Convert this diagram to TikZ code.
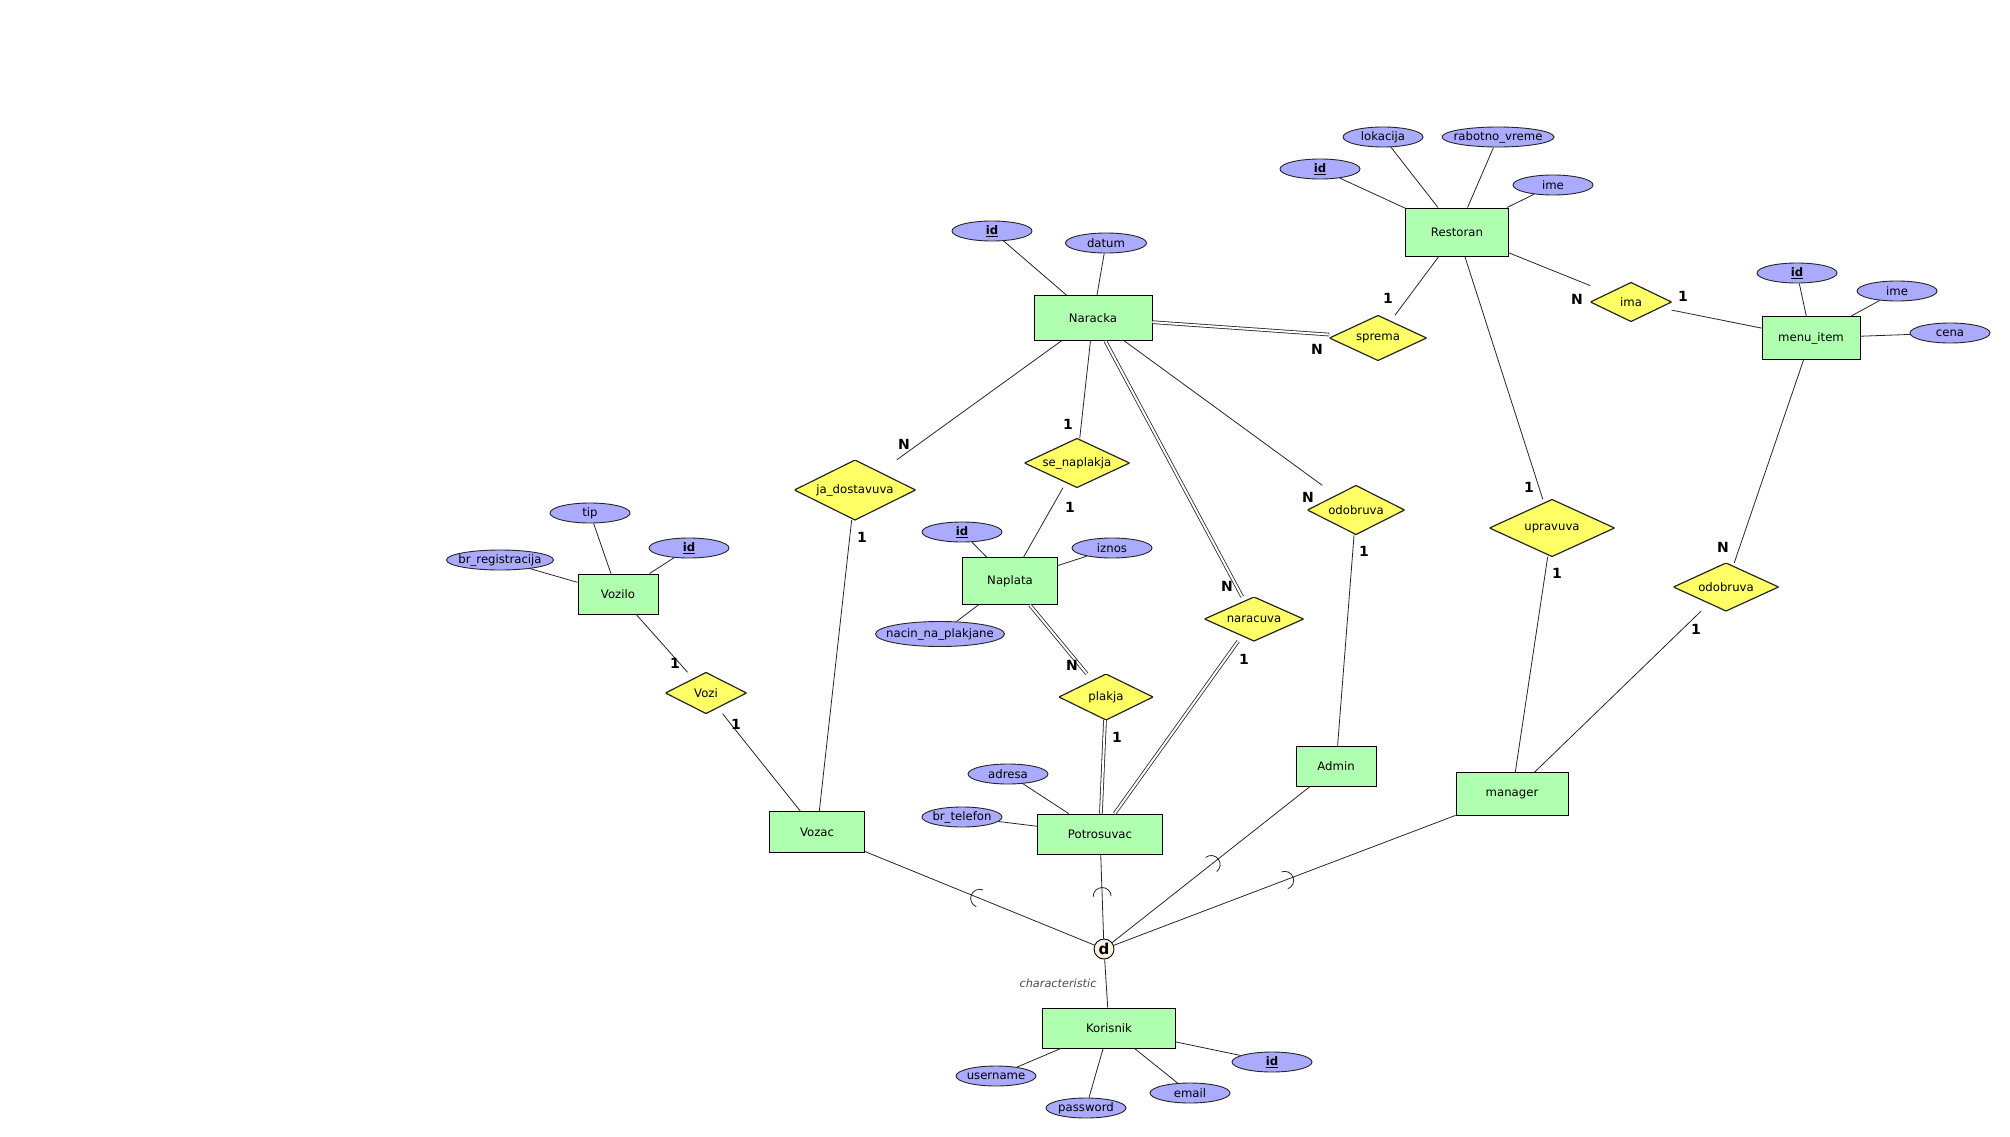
\documentclass[tikz,border=0pt]{standalone}
\usepackage{fontspec}
\setmainfont{DejaVu Sans}
\usetikzlibrary{shapes.geometric,decorations.markings}
\definecolor{entfill}{RGB}{176,255,176}
\definecolor{attrfill}{RGB}{170,170,255}
\definecolor{relfill}{RGB}{255,255,102}
\definecolor{isafill}{RGB}{246,242,222}
\tikzset{
  entity/.style = {rectangle, draw=black, fill=entfill, line width=0.9pt,
                   minimum width=#1, minimum height=41pt, inner sep=0pt,
                   font=\fontsize{11.7}{14}\selectfont},
  entity/.default = 96pt,
  attr/.style = {ellipse, draw=black!85, fill=attrfill, line width=0.9pt,
                 minimum width=#1, minimum height=20pt, inner sep=0pt,
                 font=\fontsize{11.7}{14}\selectfont},
  attr/.default = 80pt,
  rel/.style 2 args = {rectangle, minimum width=#1, minimum height=#2, inner sep=0pt,
                 font=\fontsize{11.7}{14}\selectfont,
                 path picture={\draw[fill=relfill, draw=black!85, line width=1.2pt]
                   (path picture bounding box.north) -- (path picture bounding box.east)
                   -- (path picture bounding box.south) -- (path picture bounding box.west)
                   -- cycle;}},
  card/.style = {inner sep=0pt, font=\bfseries\fontsize{14}{16}\selectfont},
  link/.style = {draw=black!85, line width=0.8pt},
  total/.style = {link, double, double distance=2pt},
  isa/.style = {link, postaction={decorate},
                decoration={markings, mark=at position 0.5 with
                  {\draw[link] (0,-9pt) arc (-90:-270:9pt);}}},
  disjoint/.style = {circle, draw=black, fill=isafill, line width=0.9pt,
                     minimum size=20pt, inner sep=0pt,
                     font=\bfseries\fontsize{15}{16}\selectfont}
}
\newcommand{\key}[1]{\underline{\textbf{#1}}}

\begin{document}
\begin{tikzpicture}[x=1pt, y=-1pt]
	\useasboundingbox (0,0) rectangle (2010,1137);

	% Entities
	\node[entity=103pt, minimum height=48pt] (Restoran) at (1457,232) {Restoran};
	\node[entity=118pt, minimum height=45pt] (Naracka) at (1093,318) {Naracka};
	\node[entity=98pt, minimum height=43pt] (menu_item) at (1811,338) {menu\_item};
	\node[entity=80pt, minimum height=40pt] (Vozilo) at (618,594) {Vozilo};
	\node[entity=95pt, minimum height=47pt] (Naplata) at (1010,581) {Naplata};
	\node[entity=125pt, minimum height=40pt] (Potrosuvac) at (1100,834) {Potrosuvac};
	\node[entity=80pt, minimum height=40pt] (Admin) at (1336,766) {Admin};
	\node[entity=112pt, minimum height=43pt] (manager) at (1512,794) {manager};
	\node[entity=95pt] (Vozac) at (817,832) {Vozac};
	\node[entity=133pt, minimum height=40pt] (Korisnik) at (1109,1028) {Korisnik};

	% Relationships
	\node[rel={97pt}{45pt}] (sprema) at (1378,338) {sprema};
	\node[rel={81pt}{39pt}] (ima) at (1631,302) {ima};
	\node[rel={121pt}{60pt}] (ja_dostavuva) at (855,490) {ja\_dostavuva};
	\node[rel={105pt}{49pt}] (se_naplakja) at (1077,463) {se\_naplakja};
	\node[rel={97pt}{49pt}] (odobruva_a) at (1356,510) {odobruva};
	\node[rel={99pt}{44pt}] (naracuva) at (1254,619) {naracuva};
	\node[rel={94pt}{46pt}] (plakja) at (1106,697) {plakja};
	\node[rel={125pt}{57pt}] (upravuva) at (1552,528) {upravuva};
	\node[rel={105pt}{48pt}] (odobruva_m) at (1726,587) {odobruva};
	\node[rel={81pt}{41pt}] (Vozi) at (706,693) {Vozi};

	% Attributes
	\node[attr] (r_id) at (1320,169) {\key{id}};
	\node[attr] (r_lokacija) at (1383,137) {lokacija};
	\node[attr=112pt, inner xsep=-5pt] (r_vreme) at (1498,137) {rabotno\_vreme};
	\node[attr] (r_ime) at (1553,185) {ime};
	\node[attr] (n_id) at (992,231) {\key{id}};
	\node[attr=81pt] (n_datum) at (1106,243) {datum};
	\node[attr] (m_id) at (1797,273) {\key{id}};
	\node[attr] (m_ime) at (1897,291) {ime};
	\node[attr] (m_cena) at (1950,333) {cena};
	\node[attr] (v_tip) at (590,513) {tip};
	\node[attr] (v_id) at (689,548) {\key{id}};
	\node[attr=107pt, inner xsep=-6pt] (v_reg) at (500,560) {br\_registracija};
	\node[attr] (p_id) at (962,532) {\key{id}};
	\node[attr] (p_iznos) at (1112,548) {iznos};
	\node[attr=129pt, minimum height=25pt, inner xsep=-9.5pt] (p_nacin) at (940,634) {nacin\_na\_plakjane};
	\node[attr] (pt_adresa) at (1008,774) {adresa};
	\node[attr, inner xsep=-2pt] (pt_telefon) at (962,817) {br\_telefon};
	\node[attr] (k_id) at (1272,1062) {\key{id}};
	\node[attr] (k_email) at (1190,1093) {email};
	\node[attr] (k_password) at (1086,1108) {password};
	\node[attr, inner xsep=-2pt] (k_username) at (996,1076) {username};

	% Attribute links
	\foreach \a/\e in {r_id/Restoran, r_lokacija/Restoran, r_vreme/Restoran, r_ime/Restoran,
	                   n_id/Naracka, n_datum/Naracka,
	                   m_id/menu_item, m_ime/menu_item, m_cena/menu_item,
	                   v_tip/Vozilo, v_id/Vozilo, v_reg/Vozilo,
	                   p_id/Naplata, p_iznos/Naplata, p_nacin/Naplata,
	                   pt_adresa/Potrosuvac, pt_telefon/Potrosuvac,
	                   k_id/Korisnik, k_email/Korisnik, k_password/Korisnik, k_username/Korisnik}
		\draw[link] (\a) -- (\e);

	% Relationship links
	\draw[link] (Restoran) -- (sprema);
	\draw[total] (Naracka) -- (sprema);
	\draw[link] (Restoran) -- (ima);
	\draw[link] (ima) -- (menu_item);
	\draw[link] (Restoran) -- (upravuva);
	\draw[link] (upravuva) -- (manager);
	\draw[link] (menu_item) -- (odobruva_m);
	\draw[link] (odobruva_m) -- (manager);
	\draw[link] (Naracka) -- (ja_dostavuva);
	\draw[link] (ja_dostavuva) -- (Vozac);
	\draw[link] (Naracka) -- (se_naplakja);
	\draw[link] (se_naplakja) -- (Naplata);
	\draw[total] (Naracka) -- (naracuva);
	\draw[total] (naracuva) -- (Potrosuvac);
	\draw[link] (Naracka) -- (odobruva_a);
	\draw[link] (odobruva_a) -- (Admin);
	\draw[total] (Naplata) -- (plakja);
	\draw[total] (plakja) -- (Potrosuvac);
	\draw[link] (Vozilo) -- (Vozi);
	\draw[link] (Vozi) -- (Vozac);

	% Cardinalities
	\node[card] (sprema_1) at (1388,298) {1};
	\node[card] (sprema_N) at (1317,349) {N};
	\node[card] (ima_N) at (1577,299) {N};
	\node[card] (ima_1) at (1683,296) {1};
	\node[card] (jad_N) at (904,444) {N};
	\node[card] (jad_1) at (862,537) {1};
	\node[card] (sen_1a) at (1068,424) {1};
	\node[card] (sen_1b) at (1070,507) {1};
	\node[card] (odoa_N) at (1308,497) {N};
	\node[card] (odoa_1) at (1364,551) {1};
	\node[card] (nar_N) at (1227,586) {N};
	\node[card] (nar_1) at (1244,659) {1};
	\node[card] (pla_N) at (1072,665) {N};
	\node[card] (pla_1) at (1117,737) {1};
	\node[card] (upr_1a) at (1529,487) {1};
	\node[card] (upr_1b) at (1557,573) {1};
	\node[card] (odom_N) at (1723,547) {N};
	\node[card] (odom_1) at (1696,629) {1};
	\node[card] (vozi_1a) at (675,663) {1};
	\node[card] (vozi_1b) at (736,724) {1};

	% Specialization of Korisnik
	\node[disjoint] (d) at (1104,949) {d};
	\node[font=\itshape\fontsize{11.3}{13}\selectfont, text=black!70, inner sep=0pt] (charlabel) at (1058,983) {characteristic};
	\draw[link] (d) -- (Korisnik);
	\foreach \s in {Vozac, Potrosuvac, Admin, manager}
		\draw[isa] (\s) -- (d);

\end{tikzpicture}
\end{document}
